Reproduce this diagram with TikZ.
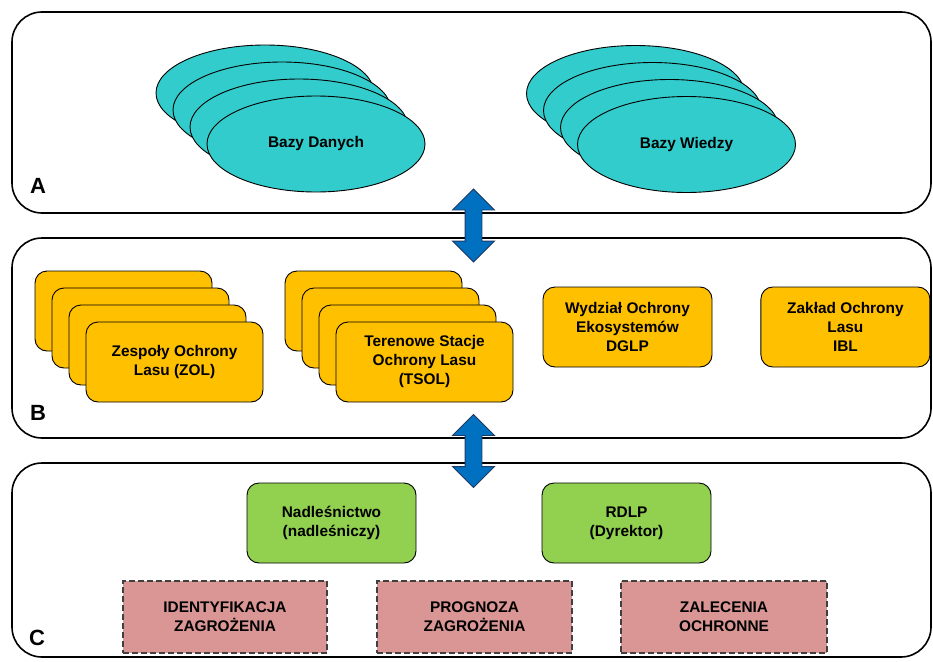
\documentclass[tikz,border=0pt]{standalone}
\usepackage{fontspec}
\setmainfont{Liberation Sans}
\usetikzlibrary{positioning,shapes.geometric,shapes.arrows}
\definecolor{dbcyan}{HTML}{33CCCC}
\definecolor{unitorange}{HTML}{FFC000}
\definecolor{officegreen}{HTML}{92D050}
\definecolor{taskpink}{HTML}{D99694}
\definecolor{linkblue}{HTML}{0070C0}
\definecolor{linkedge}{HTML}{1F3864}
\begin{document}
\begin{tikzpicture}[x=1pt, y=-1pt,
    every node/.style = {font=\fontsize{15.4}{19}\selectfont\bfseries, align=center},
    panel/.style = {draw, line width=1.6pt, rounded corners=30pt, minimum width=919pt},
    tag/.style = {font=\fontsize{22}{22}\selectfont\bfseries},
    db/.style = {draw, ellipse, fill=dbcyan, line width=0.9pt, minimum width=218pt, minimum height=96pt},
    unit/.style = {draw, fill=unitorange, line width=0.9pt, rounded corners=12pt, minimum width=177pt, minimum height=80pt},
    office/.style = {draw, fill=officegreen, line width=0.9pt, rounded corners=12pt, minimum width=169pt, minimum height=80pt},
    task/.style = {draw=black!75, dashed, dash pattern=on 6pt off 3pt, fill=taskpink, line width=1.2pt, minimum height=72pt},
    link/.style = {double arrow, draw=linkedge, fill=linkblue, line width=0.9pt, rotate=90,
      minimum height=73pt, inner xsep=0pt, inner ysep=8pt, double arrow head extend=12.5pt, double arrow tip angle=90}]
  \useasboundingbox (0,0) rectangle (933,661);
  % layers
  \node[panel, minimum height=201pt] (pA) at (471.5,112.5) {};
  \node[panel, minimum height=200pt] (pB) at (471.5,338) {};
  \node[panel, minimum height=194pt] (pC) at (471.5,560) {};
  \node[tag] (tA) at (38,186) {A};
  \node[tag] (tB) at (38,413) {B};
  \node[tag] (tC) at (37,638) {C};
  %
  \foreach \k in {3,2,1} {
    \node[db] at ({316-17*\k},{144-17*\k}) {};
    \node[db] at ({686.5-17*\k},{144.5-17*\k}) {};
    \node[unit] at ({174.5-17*\k},{362-17*\k}) {};
    \node[unit] at ({424.5-17*\k},{362-17*\k}) {};
  }
  \node[db] (danych) at (316,144) {Bazy Danych};
  \node[db] (wiedzy) at (686.5,144.5) {Bazy Wiedzy};
  %
  \node[unit] (zol) at (174.5,362) {Zespoły Ochrony\\Lasu (ZOL)};
  \node[unit] (tsol) at (424.5,362) {Terenowe Stacje\\Ochrony Lasu\\(TSOL)};
  \node[office, fill=unitorange] (dglp) at (627.5,327) {Wydział Ochrony\\Ekosystemów\\DGLP};
  \node[office, fill=unitorange] (ibl) [right=48pt of dglp] {Zakład Ochrony\\Lasu\\IBL};
  %
  \node[office] (nadl) at (331.5,523) {Nadleśnictwo\\(nadleśniczy)};
  \node[office] (rdlp) at (626.5,523) {RDLP\\(Dyrektor)};
  \node[task, minimum width=204pt] (ident) at (225,617) {IDENTYFIKACJA\\ZAGROŻENIA};
  \node[task, minimum width=195pt] (progn) at (474.5,617) {PROGNOZA\\ZAGROŻENIA};
  \node[task, minimum width=206pt] (zalec) at (724,617) {ZALECENIA\\OCHRONNE};
  %
  \node[link] (ab) at (473.5,225.5) {};
  \node[link] (bc) at (473.5,451) {};
\end{tikzpicture}
\end{document}
